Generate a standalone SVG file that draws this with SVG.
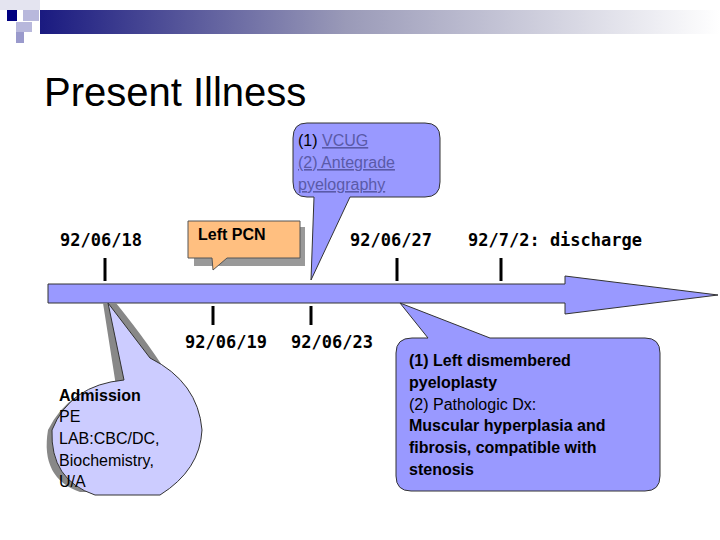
<svg xmlns="http://www.w3.org/2000/svg" width="720" height="540" viewBox="0 0 720 540">
<defs>
<linearGradient id="hg" x1="0" x2="1" y1="0" y2="0"><stop offset="0" stop-color="#1a1a80"/><stop offset="0.45" stop-color="#9a9ab8"/><stop offset="1" stop-color="#ffffff"/></linearGradient>
</defs>
<style>
.d{font-family:"DejaVu Sans Mono",monospace;font-weight:bold;font-size:17px;fill:#000}
.t{font-family:"Liberation Sans",Arial,sans-serif;font-size:16px;fill:#000}
.b{font-weight:bold}
.tk{stroke:#000;stroke-width:3}
.u{fill:#5a5aa8;text-decoration:underline}
</style>
<rect x="0" y="0" width="720" height="540" fill="#fff"/>
<g id="header">
<rect x="40" y="10" width="680" height="24" fill="url(#hg)"/>
<rect x="0" y="0" width="40" height="10" fill="#e4e4f0"/>
<rect x="7" y="10" width="10" height="11" fill="#000080"/>
<rect x="23" y="10" width="16" height="11" fill="#b8b8dc"/>
<rect x="16" y="22" width="16" height="10" fill="#b8b8dc"/>
<rect x="16" y="32" width="8" height="11" fill="#9a9acc"/>
<text x="44" y="106" font-family="Liberation Sans,Arial,sans-serif" font-size="40" fill="#000">Present Illness</text>
</g>
<g id="connectors">
<polygon points="48,284 565,284 565,276 718,295 565,314 565,303 48,303" fill="#9999ff" stroke="#333" stroke-width="1"/>
<line class="tk" x1="105" y1="258" x2="105" y2="281"/>
<line class="tk" x1="397" y1="258" x2="397" y2="281"/>
<line class="tk" x1="501" y1="258" x2="501" y2="281"/>
<line class="tk" x1="213" y1="306" x2="213" y2="325"/>
<line class="tk" x1="311" y1="306" x2="311" y2="325"/>
</g>
<g id="dates">
<text class="d" x="60" y="246">92/06/18</text>
<text class="d" x="350" y="246">92/06/27</text>
<text class="d" x="468" y="246">92/7/2: discharge</text>
<text class="d" x="185" y="348">92/06/19</text>
<text class="d" x="291" y="348">92/06/23</text>
</g>
<g id="pcn">
<rect x="194" y="227" width="111" height="39" fill="#999"/>
<path d="M188,221 H300 V258 H227 L213,270 L212,258 H188 Z" fill="#ffbf80" stroke="#555"/>
<text class="t b" x="198" y="240" font-size="15">Left PCN</text>
</g>
<g id="vcug">
<path d="M307,123 H425 Q440,123 440,138 V182 Q440,197 425,197 H350 L311,280 L314,197 H307 Q293,197 293,182 V138 Q293,123 307,123 Z" fill="#9999ff" stroke="#333"/>
<text class="t" x="298" y="146" font-size="15">(1) <tspan class="u">VCUG</tspan></text>
<text class="t u" x="298" y="168" font-size="15">(2) Antegrade</text>
<text class="t u" x="298" y="190" font-size="15">pyelography</text>
</g>
<g id="admission">
<path d="M103,303 L116,386 Q70,386 48,430 Q40,478 80,492 L130,492 Q180,470 190,430 Q190,395 116,303 Z" fill="#888"/>
<path d="M108,303 L124,380 Q70,385 52,430 Q50,480 95,495 L160,495 Q200,470 202,430 Q198,382 150,358 Z" fill="#ccccff" stroke="#333"/>
<text class="t b" x="59" y="401" font-size="16">Admission</text>
<text class="t" x="59" y="422">PE</text>
<text class="t" x="59" y="444">LAB:CBC/DC,</text>
<text class="t" x="59" y="466">Biochemistry,</text>
<text class="t" x="59" y="487">U/A</text>
</g>
<g id="surgery">
<path d="M412,338 H428 L400,303 L490,338 H645 Q660,338 660,353 V476 Q660,491 645,491 H411 Q396,491 396,476 V353 Q396,338 412,338 Z" fill="#9999ff" stroke="#333"/>
<text class="t b" x="409" y="366">(1) Left dismembered</text>
<text class="t b" x="409" y="388">pyeloplasty</text>
<text class="t" x="409" y="410">(2) Pathologic Dx:</text>
<text class="t b" x="409" y="431">Muscular hyperplasia and</text>
<text class="t b" x="409" y="453">fibrosis, compatible with</text>
<text class="t b" x="409" y="475">stenosis</text>
</g>
</svg>
